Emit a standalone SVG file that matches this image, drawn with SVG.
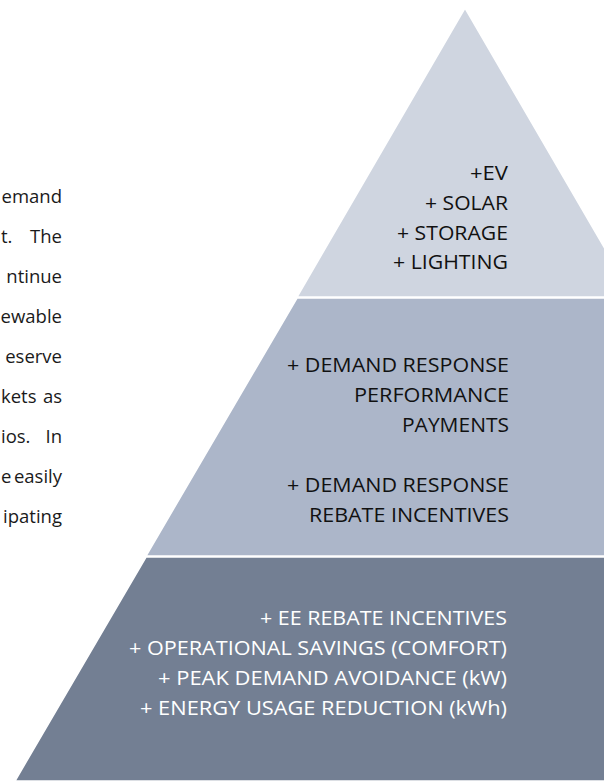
<svg xmlns="http://www.w3.org/2000/svg" width="604" height="783" viewBox="0 0 604 783">
<style>
  .tier { stroke: #ffffff; stroke-width: 1.5; stroke-linejoin: miter; }
  .t1 { fill: #CFD5E0; }
  .t2 { fill: #ACB6C9; }
  .t3 { fill: #737F93; }
  .lbl { font-family: "Open Sans", "Noto Sans", "Liberation Sans", sans-serif; font-size: 20.5px; text-anchor: end; }
  .dark { fill: #111111; }
  .light { fill: #ffffff; }
  .para { font-family: "Open Sans", "Noto Sans", "Liberation Sans", sans-serif; font-size: 18.5px; fill: #1a1a1a; }
  .e { text-anchor: end; }
</style>
<rect width="604" height="783" fill="#ffffff"/>
<g id="paragraph">
  <text class="para e" x="62" y="203">emand</text>
  <text class="para" y="243"><tspan x="1">t.</tspan><tspan class="e" x="62">The</tspan></text>
  <text class="para e" x="62" y="283">ntinue</text>
  <text class="para e" x="62" y="323">ewable</text>
  <text class="para e" x="62" y="363">eserve</text>
  <text class="para" y="403"><tspan x="1">kets</tspan><tspan class="e" x="62">as</tspan></text>
  <text class="para" y="443"><tspan x="1">ios.</tspan><tspan class="e" x="62">In</tspan></text>
  <text class="para" y="483"><tspan x="1">e</tspan><tspan class="e" x="62">easily</tspan></text>
  <text class="para e" x="62" y="523">ipating</text>
</g>
<g id="tier-top">
  <polygon class="tier t1" points="465,8 633,297 297,297"/>
  <text class="lbl dark" x="508" y="180" textLength="38" lengthAdjust="spacingAndGlyphs">+EV</text>
  <text class="lbl dark" x="508" y="210" textLength="83" lengthAdjust="spacingAndGlyphs">+ SOLAR</text>
  <text class="lbl dark" x="508" y="239.5" textLength="111" lengthAdjust="spacingAndGlyphs">+ STORAGE</text>
  <text class="lbl dark" x="508" y="269" textLength="115" lengthAdjust="spacingAndGlyphs">+ LIGHTING</text>
</g>
<g id="tier-middle">
  <polygon class="tier t2" points="297,298 633,298 784,556 146,556"/>
  <text class="lbl dark" x="509" y="372" textLength="222" lengthAdjust="spacingAndGlyphs">+ DEMAND RESPONSE</text>
  <text class="lbl dark" x="509" y="402" textLength="155" lengthAdjust="spacingAndGlyphs">PERFORMANCE</text>
  <text class="lbl dark" x="509" y="432" textLength="107" lengthAdjust="spacingAndGlyphs">PAYMENTS</text>
  <text class="lbl dark" x="509" y="492" textLength="222" lengthAdjust="spacingAndGlyphs">+ DEMAND RESPONSE</text>
  <text class="lbl dark" x="509" y="522" textLength="200" lengthAdjust="spacingAndGlyphs">REBATE INCENTIVES</text>
</g>
<g id="tier-bottom">
  <polygon class="tier t3" points="146,557 784,557 915,781 15,781"/>
  <text class="lbl light" x="507" y="625" textLength="247" lengthAdjust="spacingAndGlyphs">+ EE REBATE INCENTIVES</text>
  <text class="lbl light" x="507" y="655" textLength="378" lengthAdjust="spacingAndGlyphs">+ OPERATIONAL SAVINGS (COMFORT)</text>
  <text class="lbl light" x="507" y="685" textLength="349" lengthAdjust="spacingAndGlyphs">+ PEAK DEMAND AVOIDANCE (kW)</text>
  <text class="lbl light" x="507" y="715" textLength="367" lengthAdjust="spacingAndGlyphs">+ ENERGY USAGE REDUCTION (kWh)</text>
</g>
<g id="connectors"></g>
</svg>
